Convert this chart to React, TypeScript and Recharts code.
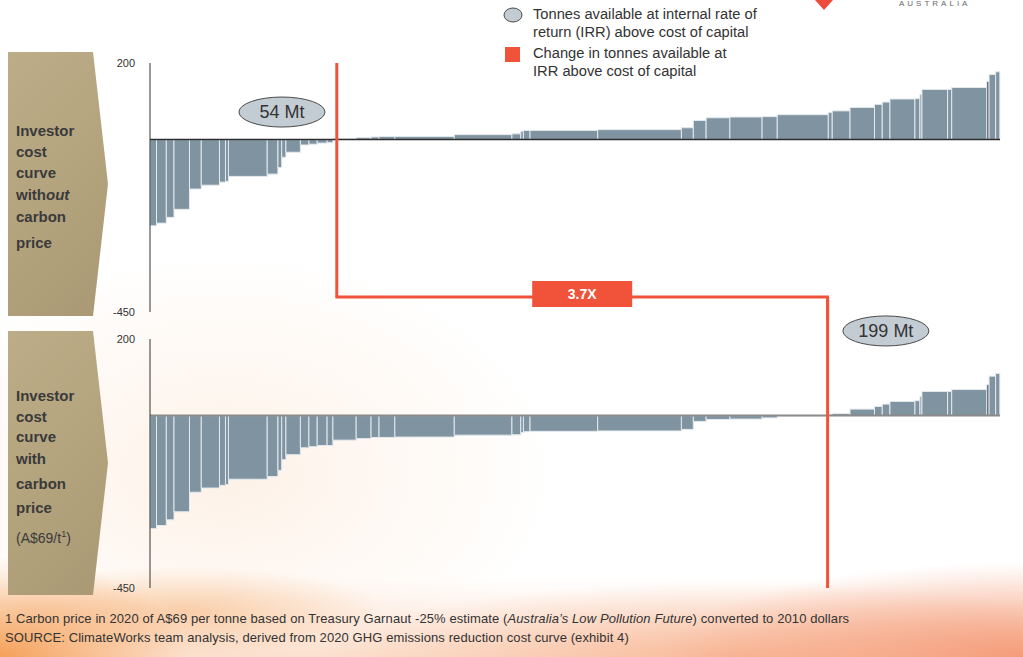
import React from 'react';
import { ComposedChart, XAxis, YAxis, ReferenceArea, ReferenceLine, ReferenceDot, Line } from 'recharts';

// ---- data (Mt of abatement per lever, cost in A$/t) ----
const barWidthsMt = [
  1.9, 2.86, 2.24, 4.52, 3.44, 5.31, 1.75, 0.87, 11.31, 3.12, 1.11, 1.22, 4.23, 2.48, 2.42, 2.89, 1.69,
  6.79, 4.34, 2.33, 4.61, 17.35, 16.82, 2.57, 0.79, 1.92, 19.74, 24.43, 3.47, 3.73, 6.94, 9.39, 4.43,
  14.9, 1.14, 5.19, 7.14, 2.27, 2.24, 7.29, 1.46, 0.58, 7.49, 1.2, 10.26, 0.64, 1.92, 1.22,
];
const topValues = [
  -225, -218, -203, -182, -129, -119, -111, -109, -96, -90, -73, -46, -33, -14, -12, -9, -8,
  2, 5, 7, 8, 8, 13, 15, 22, 24, 24, 26, 31, 50, 57, 59, 60,
  65, 71, 75, 84, 92, 98, 106, 107, 118, 131, 131, 136, 152, 170, 177,
];
const bottomValues = [
  -295, -287, -272, -251, -200, -189, -182, -180, -166, -159, -143, -115, -102, -84, -81, -78, -78,
  -64, -60, -57, -57, -56, -51, -50, -44, -42, -41, -40, -36, -15, -10, -9, -6,
  -1, 2, 5, 17, 24, 30, 37, 39, 50, 63, 63, 68, 81, 103, 110,
];
const darkBarIndex = 45;
const yTicks = [200, -450];
const yDomain = [-450, 200];
const xMax = 248;
const topCrossMt = 54.5;
const bottomCrossMt = 197.7;
const connectorCost = -411;
const topCrossLabel = '54 Mt';
const bottomCrossLabel = '199 Mt';
const multiplierLabel = '3.7X';
const legendItems = [
  ['Tonnes available at internal rate of', 'return (IRR) above cost of capital'],
  ['Change in tonnes available at', 'IRR above cost of capital'],
];

const FONT = '"Liberation Sans", Arial, Helvetica, sans-serif';
const BAR = '#7f93a1';
const RED = '#f0533a';

function buildBars(values: number[]) {
  let acc = 0;
  return values.map((v, i) => {
    const x0 = acc;
    acc += barWidthsMt[i];
    return { x0, x1: acc, mid: (x0 + acc) / 2, value: v, dark: i === darkBarIndex };
  });
}

const ellipseShape = (label: string) => (p: any) => (
  <g>
    <ellipse cx={p.cx} cy={p.cy} rx={43} ry={15} fill="#c3ccd3" stroke="#4a4a4a" strokeWidth={1} />
    <text x={p.cx} y={p.cy} dy="0.35em" textAnchor="middle" fontSize={18} fill="#333" fontFamily={FONT}>{label}</text>
  </g>
);

const boxShape = (label: string) => (p: any) => (
  <g>
    <rect x={p.cx - 50} y={p.cy - 13} width={100} height={26} fill={RED} />
    <text x={p.cx} y={p.cy} dy="0.35em" textAnchor="middle" fontSize={14} fontWeight="bold" fill="#fff" fontFamily={FONT}>{label}</text>
  </g>
);

function curveElements(values: number[], baseColor: string, baseWidth: number) {
  const bars = buildBars(values);
  const els: any[] = bars.map((b, i) => (
    <ReferenceArea
      key={'b' + i}
      x1={b.x0}
      x2={b.x1}
      y1={0}
      y2={b.value}
      fill={b.dark ? '#2f3940' : BAR}
      fillOpacity={1}
      stroke="#e3e9ed"
      strokeWidth={1}
      ifOverflow="visible"
    />
  ));
  els.push(<ReferenceLine key="base" y={0} stroke={baseColor} strokeWidth={baseWidth} ifOverflow="visible" />);
  return { bars, els };
}

function Panel({ top, lines }: { top: number; lines: { t: number; node: any; normal?: boolean }[] }) {
  return (
    <div
      style={{
        position: 'absolute',
        left: 8,
        top,
        width: 100,
        height: 264,
        background: 'linear-gradient(135deg, #bcad88 0%, #b2a27c 60%, #a99873 100%)',
        clipPath: 'polygon(0 0, 85px 0, 100px 50%, 85px 100%, 0 100%)',
      }}
    >
      {lines.map((l, i) => (
        <div
          key={i}
          style={{
            position: 'absolute',
            left: 8,
            top: l.t - top - 10,
            fontFamily: FONT,
            fontSize: l.normal ? 14 : 15,
            fontWeight: l.normal ? 'normal' : 'bold',
            color: '#3a3a3a',
            lineHeight: '20px',
            whiteSpace: 'nowrap',
          }}
        >
          {l.node}
        </div>
      ))}
    </div>
  );
}

export default function App() {
  const topCurve = curveElements(topValues, '#2e2e2e', 1.5);
  const botCurve = curveElements(bottomValues, '#8a8a8a', 2);
  const yAxisProps = {
    type: 'number' as const,
    domain: yDomain,
    ticks: yTicks,
    interval: 0 as const,
    width: 40,
    axisLine: { stroke: '#333', strokeWidth: 1 },
    tickLine: false,
    tickMargin: 9,
    tick: { fontSize: 11, fill: '#333', fontFamily: FONT },
    allowDataOverflow: true,
  };
  return (
    <div
      style={{
        position: 'absolute',
        left: 0,
        top: 0,
        width: 1023,
        height: 657,
        overflow: 'hidden',
        background:
          'radial-gradient(ellipse 360px 95px at 100% 100%, rgba(244,150,115,0.9), rgba(244,150,115,0) 100%),' +
          'radial-gradient(ellipse 420px 75px at 72% 100%, rgba(246,165,125,0.65), rgba(246,165,125,0) 100%),' +
          'radial-gradient(ellipse 190px 100px at 0% 100%, rgba(243,145,60,0.8), rgba(243,145,60,0) 100%),' +
          'radial-gradient(ellipse 200px 45px at 18% 93%, rgba(245,165,95,0.45), rgba(245,165,95,0) 100%),' +
          'radial-gradient(ellipse 330px 220px at 22% 72%, rgba(250,210,175,0.3), rgba(250,210,175,0) 100%),' +
          'linear-gradient(to bottom, rgba(255,255,255,0) 88%, rgba(248,195,160,0.5) 100%), #ffffff',
      }}
    >
      {/* logo fragment */}
      <svg style={{ position: 'absolute', left: 814, top: 0 }} width={20} height={12}>
        <polygon points="1,0 19,0 10,10" fill="#ee4b3a" />
      </svg>
      <div style={{ position: 'absolute', left: 899, top: -1, fontFamily: FONT, fontSize: 8, letterSpacing: 3, color: '#666' }}>AUSTRALIA</div>

      {/* legend */}
      <svg style={{ position: 'absolute', left: 502, top: 6 }} width={22} height={60}>
        <ellipse cx={11} cy={9} rx={9} ry={7} fill="#c3ccd3" stroke="#4a4a4a" strokeWidth={1} />
        <rect x={3} y={41} width={15} height={15} fill={RED} />
      </svg>
      {legendItems.map((item, i) => (
        <div key={i} style={{ position: 'absolute', left: 533, top: i === 0 ? 6 : 45, fontFamily: FONT, fontSize: 14.7, lineHeight: '17.5px', color: '#333', whiteSpace: 'nowrap' }}>
          {item[0]}
          <br />
          {item[1]}
        </div>
      ))}

      <Panel
        top={52}
        lines={[
          { t: 131, node: 'Investor' },
          { t: 152, node: 'cost' },
          { t: 173, node: 'curve' },
          { t: 195, node: <span>with<i>out</i></span> },
          { t: 217, node: 'carbon' },
          { t: 243, node: 'price' },
        ]}
      />
      <Panel
        top={331}
        lines={[
          { t: 396, node: 'Investor' },
          { t: 417, node: 'cost' },
          { t: 437, node: 'curve' },
          { t: 459, node: 'with' },
          { t: 484, node: 'carbon' },
          { t: 508, node: 'price' },
          { t: 534, node: <span>(A$69/t<sup style={{ fontSize: 9 }}>1</sup>)</span>, normal: true },
        ]}
      />

      {/* bottom chart (with carbon price) */}
      <div style={{ position: 'absolute', left: 0, top: 300 }}>
        <ComposedChart width={1023} height={300} data={botCurve.bars} margin={{ top: 39, right: 23, bottom: 12, left: 110 }}>
          <XAxis type="number" dataKey="mid" domain={[0, xMax]} hide allowDataOverflow />
          <YAxis {...yAxisProps} />
          {botCurve.els}
          <Line dataKey="value" stroke="none" dot={false} activeDot={false} isAnimationActive={false} />
          <ReferenceLine
            segment={[{ x: bottomCrossMt, y: 320 }, { x: bottomCrossMt, y: -450 }]}
            stroke={RED}
            strokeWidth={3}
            ifOverflow="visible"
          />
          <ReferenceDot x={214.7} y={221} r={1} ifOverflow="visible" shape={ellipseShape(bottomCrossLabel)} />
        </ComposedChart>
      </div>

      {/* top chart (without carbon price) */}
      <div style={{ position: 'absolute', left: 0, top: 0 }}>
        <ComposedChart width={1023} height={320} data={topCurve.bars} margin={{ top: 63, right: 23, bottom: 8, left: 110 }}>
          <XAxis type="number" dataKey="mid" domain={[0, xMax]} hide allowDataOverflow />
          <YAxis {...yAxisProps} />
          {topCurve.els}
          <Line dataKey="value" stroke="none" dot={false} activeDot={false} isAnimationActive={false} />
          <ReferenceLine
            segment={[{ x: topCrossMt, y: 200 }, { x: topCrossMt, y: connectorCost }]}
            stroke={RED}
            strokeWidth={3}
            ifOverflow="visible"
          />
          <ReferenceLine
            segment={[{ x: topCrossMt - 0.4, y: connectorCost }, { x: bottomCrossMt + 0.4, y: connectorCost }]}
            stroke={RED}
            strokeWidth={3}
            ifOverflow="visible"
          />
          <ReferenceLine
            segment={[{ x: bottomCrossMt, y: connectorCost }, { x: bottomCrossMt, y: -500 }]}
            stroke={RED}
            strokeWidth={3}
            ifOverflow="visible"
          />
          <ReferenceDot x={38.5} y={72} r={1} ifOverflow="visible" shape={ellipseShape(topCrossLabel)} />
          <ReferenceDot x={(topCrossMt + bottomCrossMt) / 2} y={-403} r={1} ifOverflow="visible" shape={boxShape(multiplierLabel)} />
        </ComposedChart>
      </div>

      {/* footnotes */}
      <div style={{ position: 'absolute', left: 5, top: 609, fontFamily: FONT, fontSize: 13, lineHeight: '19px', color: '#333', whiteSpace: 'nowrap', letterSpacing: 0.1 }}>
        1 Carbon price in 2020 of A$69 per tonne based on Treasury Garnaut -25% estimate (<i>Australia’s Low Pollution Future</i>) converted to 2010 dollars
        <br />
        SOURCE: ClimateWorks team analysis, derived from 2020 GHG emissions reduction cost curve (exhibit 4)
      </div>
    </div>
  );
}
